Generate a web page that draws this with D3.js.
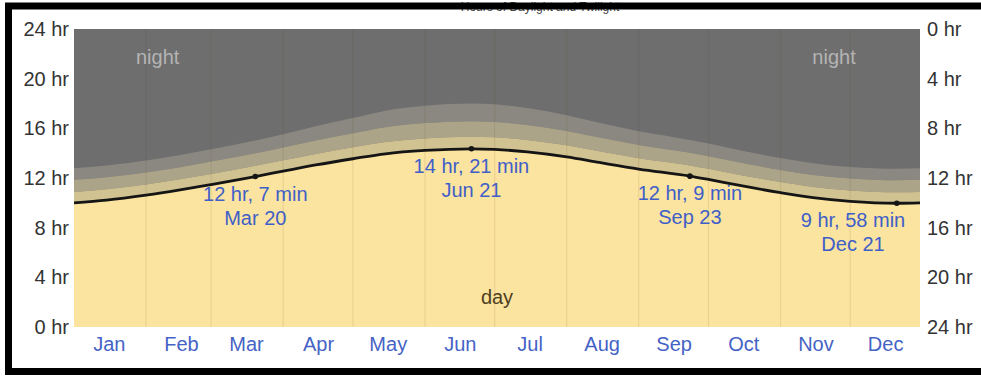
<!DOCTYPE html>
<html>
<head>
<meta charset="utf-8">
<script src="https://cdn.jsdelivr.net/npm/d3@7"></script>
<style>
  body { margin: 0; background: #fff; }
  svg { display: block; font-family: "Liberation Sans", Arial, sans-serif; }
</style>
</head>
<body>
<svg id="chart" width="981" height="376"></svg>
<script>
// Hours of daylight and twilight through the year (hours per day)
const year = 2023;
const sampleDates = ["01-01","01-15","02-01","02-15","03-01","03-20","04-01","04-15","05-01","05-15",
                     "06-01","06-21","07-01","07-15","08-01","08-15","09-01","09-23","10-01","10-15",
                     "11-01","11-15","12-01","12-21","12-31"];
const daylightHours = [10.00,10.22,10.62,11.02,11.47,12.1167,12.55,13.05,13.55,13.95,
                       14.22,14.35,14.30,14.10,13.70,13.25,12.72,12.15,11.88,11.38,
                       10.82,10.42,10.12,9.9667,10.00];
// extra time added by each twilight band (morning + evening)
const civilHours = [0.88,0.87,0.86,0.85,0.85,0.86,0.87,0.89,0.92,0.95,
                    0.97,0.98,0.98,0.96,0.93,0.90,0.88,0.86,0.86,0.85,
                    0.85,0.86,0.87,0.88,0.88];
const nauticalHours = [0.97,0.97,0.97,0.98,1.00,1.02,1.04,1.08,1.13,1.19,
                       1.23,1.25,1.24,1.21,1.16,1.11,1.06,1.02,1.01,0.99,
                       0.98,0.97,0.97,0.97,0.97];
const astronomicalHours = [0.93,0.94,0.96,0.98,1.00,1.03,1.07,1.14,1.23,1.33,
                           1.40,1.42,1.41,1.36,1.27,1.19,1.11,1.04,1.02,0.99,
                           0.96,0.94,0.93,0.93,0.93];
const markerDates = ["03-20","06-21","09-23","12-21"];
const monthLabels = ["Jan","Feb","Mar","Apr","May","Jun","Jul","Aug","Sep","Oct","Nov","Dec"];
const hourTicks = [0,4,8,12,16,20,24];
const bandKeys = ["day","civil","nautical","astronomical"];
const bandColors = ["#fbe3a0","#d1c291","#aca489","#8b8881"];
const nightColor = "#6e6e6e";

const svg = d3.select("#chart");
const W = 981, H = 376;
const plot = { left: 74, right: 920, top: 29, bottom: 327 };

const parse = s => new Date(Date.UTC(year, +s.slice(0,2) - 1, +s.slice(3,5)));

const x = d3.scaleUtc()
  .domain([parse("01-01"), parse("12-31")])
  .range([plot.left, plot.right]);
const y = d3.scaleLinear().domain([0, 24]).range([plot.bottom, plot.top]);
const yRight = d3.scaleLinear().domain([0, 24]).range([plot.top, plot.bottom]);

const rows = sampleDates.map((s, i) => ({
  date: parse(s),
  day: daylightHours[i],
  civil: civilHours[i],
  nautical: nauticalHours[i],
  astronomical: astronomicalHours[i]
}));

svg.append("rect").attr("width", W).attr("height", H).attr("fill", "#fff");

// title, tucked behind the top edge of the frame
svg.append("text")
  .attr("x", 540).attr("y", 11)
  .attr("font-size", 12).attr("fill", "#444").attr("text-anchor", "middle")
  .text("Hours of Daylight and Twilight");

// night background
svg.append("rect")
  .attr("x", plot.left).attr("y", plot.top)
  .attr("width", plot.right - plot.left).attr("height", plot.bottom - plot.top)
  .attr("fill", nightColor);

// stacked day + twilight bands
const stacked = d3.stack().keys(bandKeys)(rows);
const area = d3.area()
  .x(d => x(d.data.date))
  .y0(d => y(d[0]))
  .y1(d => y(d[1]))
  .curve(d3.curveMonotoneX);

svg.append("g").selectAll("path")
  .data(stacked.slice().reverse())
  .join("path")
  .attr("d", area)
  .attr("fill", d => bandColors[bandKeys.indexOf(d.key)]);

// month gridlines
const monthStarts = d3.utcMonths(parse("02-01"), parse("12-31"));
svg.append("g").selectAll("line")
  .data(monthStarts)
  .join("line")
  .attr("x1", d => x(d)).attr("x2", d => x(d))
  .attr("y1", plot.top).attr("y2", plot.bottom)
  .attr("stroke", "rgba(90,70,20,0.10)")
  .attr("stroke-width", 1.2);

// daylight curve
const line = d3.line()
  .x(d => x(d.date))
  .y(d => y(d.day))
  .curve(d3.curveMonotoneX);
svg.append("path")
  .datum(rows)
  .attr("d", line)
  .attr("fill", "none")
  .attr("stroke", "#151515")
  .attr("stroke-width", 2.8);

// solstice / equinox markers and labels
const markers = markerDates.map(s => rows[sampleDates.indexOf(s)]);
const fmtDur = h => { const m = Math.round(h * 60); return `${Math.floor(m / 60)} hr, ${m % 60} min`; };
const fmtDate = d3.utcFormat("%b %-d");

svg.append("g").selectAll("circle")
  .data(markers)
  .join("circle")
  .attr("cx", d => x(d.date)).attr("cy", d => y(d.day))
  .attr("r", 2.8).attr("fill", "#151515");

const ann = svg.append("g")
  .attr("font-size", 20).attr("fill", "#3f5fc8").attr("text-anchor", "middle");
markers.forEach(d => {
  const half = 53;
  const cx = Math.min(x(d.date), plot.right - half - 14);
  const top = y(d.day) + 24;
  ann.append("text").attr("x", cx).attr("y", top).text(fmtDur(d.day));
  ann.append("text").attr("x", cx).attr("y", top + 24).text(fmtDate(d.date));
});

// night / day captions
svg.append("g").attr("font-size", 20).attr("fill", "#b4b4b4").attr("text-anchor", "middle")
  .selectAll("text").data([x(parse("02-06")), x(parse("11-24"))]).join("text")
  .attr("x", d => d).attr("y", 64).text("night");
svg.append("text")
  .attr("x", x(parse("07-02"))).attr("y", 304)
  .attr("font-size", 20).attr("fill", "#4d4022").attr("text-anchor", "middle")
  .text("day");

// axes
const leftAxis = svg.append("g")
  .attr("transform", `translate(${plot.left},0)`)
  .call(d3.axisLeft(y).tickValues(hourTicks).tickFormat(d => `${d} hr`).tickSize(0).tickPadding(5));
const rightAxis = svg.append("g")
  .attr("transform", `translate(${plot.right},0)`)
  .call(d3.axisRight(yRight).tickValues(hourTicks).tickFormat(d => `${d} hr`).tickSize(0).tickPadding(7));
[leftAxis, rightAxis].forEach(g => {
  g.select(".domain").remove();
  g.attr("font-family", null).attr("font-size", null);
  g.selectAll("text").attr("font-size", 20).attr("fill", "#333");
});

const monthMids = d3.range(12).map(i => new Date(Date.UTC(year, i, 16)));
const bottomAxis = svg.append("g")
  .attr("transform", `translate(0,${plot.bottom})`)
  .call(d3.axisBottom(x).tickValues(monthMids).tickFormat((d, i) => monthLabels[i]).tickSize(0).tickPadding(10));
bottomAxis.select(".domain").remove();
bottomAxis.attr("font-family", null).attr("font-size", null);
bottomAxis.selectAll("text").attr("font-size", 20).attr("fill", "#4563c6");

// frame
svg.append("rect")
  .attr("x", 8.5).attr("y", 6).attr("width", 1000).attr("height", 365.5)
  .attr("fill", "none").attr("stroke", "#000").attr("stroke-width", 7);
</script>
</body>
</html>
